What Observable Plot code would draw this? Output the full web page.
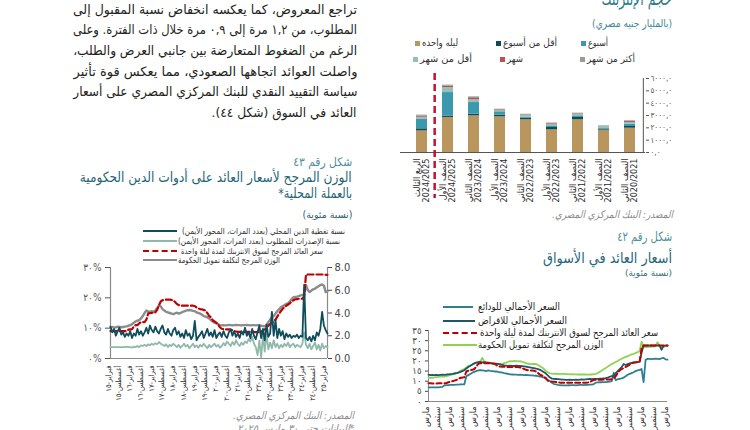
<!DOCTYPE html>
<html lang="ar"><head><meta charset="utf-8">
<script src="https://cdn.jsdelivr.net/npm/d3@7"></script>
<script src="https://cdn.jsdelivr.net/npm/@observablehq/plot@0.6"></script>
<style>
html,body{margin:0;padding:0;}
body{width:750px;height:430px;overflow:hidden;position:relative;background:#fff;font-family:"DejaVu Sans Condensed","DejaVu Sans",sans-serif;}
.t{position:absolute;white-space:nowrap;direction:rtl;}
.chart{position:absolute;}
.chart svg{overflow:visible;background:transparent;}
.sw{position:absolute;}
</style></head><body>
<script>
// ---------- text ----------
const paragraph = [
  "تراجع المعروض، كما يعكسه انخفاض نسبة المقبول إلى",
  "المطلوب، من ١,٢ مرة إلى ٠,٩ مرة خلال ذات الفترة. وعلى",
  "الرغم من الضغوط المتعارضة بين جانبي العرض والطلب،",
  "واصلت العوائد اتجاهها الصعودي، مما يعكس قوة تأثير",
  "سياسة التقييد النقدي للبنك المركزي المصري على أسعار",
  "العائد في السوق (شكل ٤٤)."
];

// ---------- bar chart: interbank volume ----------
const barCats = [
  "الربع الثالث\n2024/2025", "النصف الأول\n2024/2025", "النصف الثاني\n2023/2024",
  "النصف الأول\n2023/2024", "النصف الثاني\n2022/2023", "النصف الأول\n2022/2023",
  "النصف الثاني\n2021/2022", "النصف الأول\n2021/2022", "النصف الثاني\n2020/2021"
];
const barSeries = ["ليله واحده", "أقل من أسبوع", "أسبوع", "أقل من شهر", "شهر", "أكثر من شهر"];
const barColors = ["#b8965e", "#0f4a55", "#3b98ad", "#92c1ba", "#c0504d", "#9a9a9a"];
const overnight   = [1750, 2840, 2970, 2890, 2650, 1840, 2650, 1810, 1970];
const lessWeek    = [170, 100, 130, 140, 130, 190, 190, 80, 140];
const oneWeek     = [760, 1920, 950, 270, 80, 130, 130, 60, 190];
const lessMonth   = [180, 410, 220, 130, 190, 140, 140, 160, 130];
const oneMonth    = [90, 110, 110, 50, 30, 80, 40, 0, 80];
const moreMonth   = [80, 80, 130, 30, 20, 0, 40, 50, 60];
const barValues = [overnight, lessWeek, oneWeek, lessMonth, oneMonth, moreMonth];
const barTicks = [0, 1000, 2000, 3000, 4000, 5000, 6000];

// ---------- left chart (Feb 2015 .. Mar 2025, monthly) ----------
const leftTicks = [0, 6, 12, 18, 24, 30, 36, 42, 48, 54, 60, 66, 72, 78, 84, 90, 96, 102, 108, 114, 120];
const leftTickLabels = ["فبراير-١٥","أغسطس-١٥","فبراير-١٦","أغسطس-١٦","فبراير-١٧","أغسطس-١٧","فبراير-١٨","أغسطس-١٨","فبراير-١٩","أغسطس-١٩","فبراير-٢٠","أغسطس-٢٠","فبراير-٢١","أغسطس-٢١","فبراير-٢٢","أغسطس-٢٢","فبراير-٢٣","أغسطس-٢٣","فبراير-٢٤","أغسطس-٢٤","فبراير-٢٥"];
const leftSeriesNames = [
  "نسبة تغطية الدين المحلي (بعدد المرات، المحور الأيمن)",
  "نسبة الإصدرات للمطلوب (بعدد المرات، المحور الأيمن)",
  "سعر العائد المرجح لسوق الانتربنك لمدة ليلة واحدة",
  "الوزن المرجح لتكلفة تمويل الحكومة"
];
const leftRed = [
  9.0,9.0,9.0,9.0,9.0,9.0,9.0,9.0,9.0,9.1,9.5,9.6,
  9.7,10.5,11.0,11.0,11.6,12.0,12.0,12.0,12.8,14.8,15.0,15.0,
  15.2,15.2,16.0,17.5,18.8,19.2,19.4,19.4,19.4,19.4,19.3,19.2,
  18.6,18.0,17.6,17.5,17.4,17.4,17.4,17.4,17.4,17.4,17.4,17.3,
  16.8,16.5,16.3,16.2,16.0,15.8,15.0,14.0,13.6,12.6,12.2,11.8,
  11.2,10.3,9.8,9.7,9.6,9.6,9.6,9.4,9.3,9.0,8.9,8.8,
  8.8,8.8,8.8,8.8,8.8,8.8,8.8,8.8,8.7,8.7,8.7,8.7,
  8.8,9.3,9.6,9.8,10.8,11.4,11.8,12.3,12.8,13.8,14.8,15.6,
  16.4,17.0,17.4,17.8,18.2,18.8,19.2,19.5,19.6,19.7,19.7,19.7,
  20.5,27.6,27.7,27.7,27.7,27.7,27.7,27.7,27.7,27.7,27.7,27.7,
  27.6,27.6
];
const leftGray = [
  10.3,10.4,10.2,10.3,10.5,10.4,10.3,10.4,10.5,10.6,10.8,11.0,
  11.3,11.8,12.2,12.5,12.6,13.2,14.0,15.0,15.8,15.5,15.3,15.6,
  15.4,15.8,16.6,17.5,17.2,16.3,15.8,15.4,15.2,15.0,14.8,14.6,
  14.9,15.1,14.8,15.0,15.3,15.5,15.8,15.9,16.0,15.9,15.7,15.6,
  15.2,15.0,14.8,14.4,14.0,13.8,13.6,13.2,12.6,12.2,11.8,11.6,
  11.4,11.0,10.9,11.0,10.9,11.0,11.1,11.0,10.9,11.0,11.1,11.0,
  11.0,10.9,11.0,11.0,11.1,11.0,10.9,11.0,11.0,10.9,11.0,11.0,
  10.8,10.7,10.6,11.0,12.0,12.8,13.5,14.0,14.8,15.6,16.2,16.9,
  17.3,17.6,18.0,18.2,18.8,19.6,20.2,20.3,20.4,20.6,20.8,21.0,
  21.2,24.2,22.6,21.9,22.4,22.8,23.0,23.5,23.8,24.2,24.4,24.0,
  21.9,22.1
];
const leftCoverage = [
  2.8,2.3,2.6,2.0,2.4,2.7,2.1,2.3,1.9,2.2,2.0,2.4,
  1.8,2.2,2.0,2.6,2.1,2.4,2.0,2.3,2.7,2.2,2.9,2.5,
  2.3,2.8,2.4,2.2,2.6,2.9,2.3,2.1,2.6,2.2,2.0,2.5,
  2.7,2.1,2.4,1.9,2.2,1.8,2.5,2.0,2.2,1.7,2.0,3.3,
  1.6,1.9,2.1,2.4,1.8,2.2,2.6,2.0,2.3,1.9,2.5,1.8,
  2.1,2.3,1.9,2.4,2.0,1.8,2.3,2.6,2.0,2.4,1.9,2.2,
  1.8,2.4,2.1,2.7,2.0,2.3,1.8,2.6,2.0,1.7,2.3,2.9,
  1.8,2.6,1.6,3.0,1.9,2.2,4.1,2.0,3.4,1.8,2.6,2.0,
  2.4,1.7,2.2,1.9,2.1,1.8,2.0,1.9,2.1,1.8,2.0,1.9,
  6.5,1.8,1.6,1.9,1.5,2.0,1.6,2.3,2.0,2.6,4.1,2.9,
  2.5,2.2
];
const leftIssuance = [
  1.0,1.0,1.0,1.0,1.0,1.0,1.0,1.0,1.0,1.05,1.0,1.0,
  0.95,1.05,1.0,1.1,1.0,1.15,1.1,1.2,1.1,1.25,1.15,1.3,
  1.2,1.35,1.25,1.45,1.3,1.2,1.1,1.25,1.0,1.2,1.1,1.3,
  1.15,1.0,1.2,0.95,1.1,1.3,1.05,1.2,0.9,1.1,1.3,1.0,
  1.15,0.95,1.2,1.05,1.3,1.1,0.9,1.2,1.0,1.15,1.3,1.05,
  1.2,0.95,1.1,1.35,1.15,1.5,1.3,1.1,1.45,1.2,1.6,1.3,
  1.1,1.4,1.2,1.5,1.35,1.7,1.5,1.9,1.3,1.0,0.3,1.6,
  0.1,2.0,0.6,2.2,0.8,1.4,0.9,1.6,1.0,1.3,0.9,1.2,
  1.0,1.3,1.1,1.4,1.0,1.2,1.3,1.0,1.2,1.1,1.0,1.3,
  2.3,1.2,0.9,1.3,0.8,1.1,1.4,0.8,1.2,0.7,1.3,0.9,
  1.1,1.0
];

// ---------- right chart (Mar 2015 .. Mar 2025, monthly) ----------
const rightTicks = [0, 6, 12, 18, 24, 30, 36, 42, 48, 54, 60, 66, 72, 78, 84, 90, 96, 102, 108, 114, 120];
const rightTickLabels = ["مارس ١٥","سبتمبر ١٥","مارس ١٦","سبتمبر ١٦","مارس ١٧","سبتمبر ١٧","مارس ١٨","سبتمبر ١٨","مارس ١٩","سبتمبر ١٩","مارس ٢٠","سبتمبر ٢٠","مارس ٢١","سبتمبر ٢١","مارس ٢٢","سبتمبر ٢٢","مارس ٢٣","سبتمبر ٢٣","مارس ٢٤","سبتمبر ٢٤","مارس ٢٥"];
const rightYTicks = [0, 5, 10, 15, 20, 25, 30, 35];
const rightSeriesNames = [
  "السعر الأجمالي للودائع",
  "السعر الأجمالي للاقراض",
  "سعر العائد المرجح لسوق الانتربنك لمدة ليلة واحدة",
  "الوزن المرجح لتكلفة تمويل الحكومة"
];
const rDeposit = [
  7.0,7.0,7.0,7.0,7.0,7.0,7.1,7.2,8.0,8.1,8.1,8.2,
  8.2,8.2,8.3,8.3,8.4,8.4,8.5,12.5,13.0,13.6,14.2,14.6,
  15.0,15.3,15.4,15.3,15.2,15.0,15.3,15.1,15.0,14.8,14.8,14.6,
  14.4,14.3,14.0,13.8,13.6,13.4,13.3,13.2,13.2,13.1,13.2,13.1,
  13.0,13.1,13.0,12.9,12.9,12.8,12.7,12.5,12.3,12.1,11.8,11.2,
  10.6,10.0,9.2,8.6,8.4,8.2,8.1,8.0,7.9,7.9,8.0,8.0,
  8.1,8.1,8.0,8.1,8.2,8.2,8.1,8.2,8.2,8.3,8.3,8.6,
  9.3,9.4,9.5,9.5,9.6,9.6,9.7,9.8,10.0,14.2,10.5,11.0,
  11.2,11.4,11.8,12.5,13.2,13.6,14.0,14.4,15.0,15.3,15.6,16.0,
  9.5,20.5,21.0,21.0,20.9,21.0,21.1,21.0,20.9,21.3,21.5,20.8,
  20.6
];
const rLending = [
  13.2,13.0,13.1,13.0,13.1,13.0,13.1,13.2,13.1,13.3,13.4,13.5,
  13.6,13.8,14.0,14.2,14.6,15.0,15.4,16.3,17.0,17.6,18.2,18.8,
  19.2,19.4,19.5,19.3,19.4,19.3,19.2,19.0,18.8,18.7,18.6,18.5,
  18.3,18.0,17.8,17.7,17.6,17.7,17.6,17.5,17.7,17.6,17.5,17.4,
  17.3,17.2,17.0,16.8,16.6,16.4,16.2,16.0,15.6,15.0,14.4,13.8,
  12.8,11.8,11.3,11.2,11.1,11.0,10.9,10.8,10.8,10.7,10.7,10.8,
  10.7,10.7,10.8,10.7,10.8,10.9,10.8,10.9,11.0,11.1,11.0,11.2,
  11.2,11.2,11.3,11.3,11.4,11.5,11.8,12.2,12.5,12.8,14.0,15.0,
  16.0,17.0,18.5,18.0,18.4,18.8,19.0,19.2,19.3,19.4,19.6,24.0,
  27.6,27.5,27.6,27.7,27.6,27.5,27.6,27.7,27.6,25.5,27.4,27.6,
  27.5
];
const rInterbank = [
  9.0,9.0,8.9,8.9,8.9,9.0,9.0,9.0,9.0,9.1,9.5,9.7,
  10.0,10.3,10.6,11.2,11.6,11.8,12.0,14.8,15.2,15.4,15.6,16.0,
  17.2,18.6,18.8,18.9,18.9,18.9,18.8,18.9,18.8,18.6,18.0,17.4,
  17.2,17.1,17.2,17.1,17.0,17.1,17.0,17.0,17.1,17.0,16.8,16.4,
  16.0,15.6,15.4,15.3,15.3,15.2,14.8,14.0,13.2,12.8,12.2,11.4,
  10.2,10.0,9.8,9.7,9.6,9.5,9.3,9.2,9.2,9.2,9.2,9.2,
  9.2,9.2,9.2,9.2,9.2,9.2,9.3,9.3,9.4,9.6,10.2,10.6,
  10.7,10.7,10.7,10.7,10.8,10.8,10.8,10.9,11.0,11.5,12.5,14.0,
  15.3,16.0,16.5,17.0,17.6,18.2,18.8,19.2,19.4,19.4,19.4,26.5,
  27.6,27.6,27.6,27.6,27.6,27.6,27.6,27.6,27.6,27.6,27.6,27.6,
  27.6
];
const rGovCost = [
  11.7,11.8,11.7,11.9,12.0,12.1,12.3,12.4,12.3,12.5,12.8,13.0,
  13.4,13.6,14.0,14.4,15.0,15.6,16.0,16.8,17.5,17.7,18.2,18.8,
  19.2,19.4,19.8,21.5,19.6,19.2,18.9,18.8,18.6,18.8,18.4,18.3,
  18.6,18.4,18.9,19.2,19.6,19.9,19.8,20.0,19.9,19.8,19.9,19.6,
  19.3,18.9,18.6,18.5,18.4,18.5,18.4,18.0,17.4,16.8,16.0,15.0,
  14.4,13.9,13.7,13.6,13.7,13.6,13.5,13.6,13.6,13.5,13.5,13.4,
  13.5,13.4,13.4,13.3,13.4,13.3,13.3,13.3,13.2,13.3,13.3,13.5,
  13.6,14.0,14.6,15.3,15.9,16.5,17.2,17.9,18.5,19.0,19.5,20.0,
  20.6,21.1,21.6,22.0,22.4,22.8,23.2,23.5,23.9,24.3,24.8,29.5,
  27.0,26.8,27.0,26.9,27.1,27.0,27.3,29.2,27.5,27.0,26.8,27.4,
  27.6
];

// ---------- helpers ----------
const AR = "٠١٢٣٤٥٦٧٨٩";
const ar = s => String(s).replace(/[0-9]/g, d => AR[d]);

function addChart(svg, left, top, width) {
  const d = document.createElement("div");
  d.className = "chart";
  Object.assign(d.style, {left: left + "px", top: top + "px", width: width + "px"});
  d.appendChild(svg);
  document.body.appendChild(d);
}
function txt(s, o) {
  const d = document.createElement("div");
  d.className = "t";
  d.textContent = s;
  const lh = o.lh || Math.ceil(o.size * 1.5);
  Object.assign(d.style, {fontSize: o.size + "px", lineHeight: lh + "px", top: (o.cy - lh / 2) + "px", color: o.color || "#222"});
  if (o.italic) d.style.fontStyle = "italic";
  if (o.font) d.style.fontFamily = o.font;
  if (o.r != null) { d.style.right = (750 - o.r) + "px"; d.style.transformOrigin = "right center"; }
  else { d.style.left = o.l + "px"; d.style.transformOrigin = "left center"; }
  document.body.appendChild(d);
  if (o.w) { const w = d.getBoundingClientRect().width; d.style.transform = `scaleX(${o.w / w})`; }
  return d;
}
function swatchLine(l, cy, w, color, dashed, thick) {
  const d = document.createElement("div");
  d.className = "sw";
  Object.assign(d.style, {left: l + "px", top: (cy - thick / 2) + "px", width: w + "px", height: "0px",
    borderTop: `${thick}px ${dashed ? "dashed" : "solid"} ${color}`});
  document.body.appendChild(d);
}
function swatchBox(l, cy, s, color) {
  const d = document.createElement("div");
  d.className = "sw";
  Object.assign(d.style, {left: l + "px", top: (cy - s / 2) + "px", width: s + "px", height: s + "px", background: color});
  document.body.appendChild(d);
}

const baseStyle = {background: "transparent", overflow: "visible", fontFamily: "'DejaVu Sans Condensed','DejaVu Sans',sans-serif", color: "#333"};

// ---------- bar chart ----------
const step = 240 / barCats.length;
const segs = [];
barCats.forEach((c, i) => barSeries.forEach((s, j) => segs.push({cat: c, series: s, value: barValues[j][i]})));
const barChart = Plot.plot({
  width: 280, height: 160, marginLeft: 10, marginRight: 30, marginTop: 13, marginBottom: 73,
  style: baseStyle,
  x: {domain: barCats, paddingInner: 0.58, paddingOuter: 0.29, axis: null},
  y: {domain: [0, 6000], axis: null},
  color: {domain: barSeries, range: barColors},
  marks: [
    Plot.barY(segs, {x: "cat", y: "value", fill: "series"}),
    Plot.ruleY([0], {stroke: "#555", strokeWidth: 1, insetLeft: -5}),
    Plot.ruleX([barCats[barCats.length - 1]], {stroke: "#555", strokeWidth: 1, dx: step / 2}),
    Plot.axisY({anchor: "right", label: null, ticks: barTicks, tickSize: 3, tickPadding: 2, fontSize: 8, color: "#555",
      tickFormat: d => ar(d.toFixed(1).replace(".", ","))}),
    Plot.ruleX([barCats[1]], {stroke: "#c8102e", strokeWidth: 2.5, strokeDasharray: "7,4", dx: -step / 2, insetTop: -5, insetBottom: -46}),
    Plot.text(barCats, {x: d => d, frameAnchor: "bottom", rotate: -90, textAnchor: "end", lineAnchor: "middle",
      dy: 6, fontSize: 9, fill: "#2a2a2a", fontFamily: "'Liberation Sans Narrow','DejaVu Sans Condensed',sans-serif"})
  ]
});
addChart(barChart, 395, 65, 280);

// ---------- left chart ----------
const K = 30 / 8;
const leftChart = Plot.plot({
  width: 290, height: 175, marginLeft: 50, marginRight: 23, marginTop: 12, marginBottom: 72,
  style: baseStyle,
  x: {domain: [0, 121], axis: null},
  y: {domain: [0, 30], axis: null},
  marks: [
    Plot.ruleX([0, 121], {stroke: "#8a8a8a", strokeWidth: 1.2}),
    Plot.ruleY([0], {stroke: "#8a8a8a", strokeWidth: 1.2}),
    Plot.axisY({anchor: "left", label: null, ticks: [0, 10, 20, 30], tickFormat: d => ar(d) + "%", tickSize: 5, tickPadding: 4, fontSize: 10, color: "#555"}),
    Plot.axisY({anchor: "right", label: null, ticks: [0, 2, 4, 6, 8].map(v => v * K), tickFormat: d => (d / K).toFixed(1), tickSize: 4, tickPadding: 3, fontSize: 11, color: "#444"}),
    Plot.line(leftIssuance, {x: (d, i) => i, y: d => d * K, stroke: "#8fb9a8", strokeWidth: 1.8}),
    Plot.line(leftGray, {x: (d, i) => i, y: d => d, stroke: "#8c8c8c", strokeWidth: 2.4}),
    Plot.line(leftRed, {x: (d, i) => i, y: d => d, stroke: "#c00000", strokeWidth: 2.2, strokeDasharray: "6,3"}),
    Plot.line(leftCoverage, {x: (d, i) => i, y: d => d * K, stroke: "#0f4c5c", strokeWidth: 1.8}),
    Plot.text(leftTicks, {x: d => d, text: (d, i) => leftTickLabels[i], frameAnchor: "bottom", rotate: -90, textAnchor: "end", dy: 7, fontSize: 7.5, fill: "#333"})
  ]
});
addChart(leftChart, 60, 255, 290);

// ---------- right chart ----------
const rightChart = Plot.plot({
  width: 300, height: 112, marginLeft: 48, marginRight: 13, marginTop: 12, marginBottom: 29,
  style: baseStyle,
  x: {domain: [0, 120], axis: null},
  y: {domain: [0, 35], axis: null},
  marks: [
    Plot.ruleX([0], {stroke: "#8a8a8a"}),
    Plot.ruleY([0], {stroke: "#8a8a8a"}),
    Plot.axisY({label: null, ticks: rightYTicks, tickFormat: d => ar(d), tickSize: 3, tickPadding: 4, fontSize: 9.5, color: "#444"}),
    Plot.line(rGovCost, {x: (d, i) => i, y: d => d, stroke: "#92d050", strokeWidth: 1.8}),
    Plot.line(rDeposit, {x: (d, i) => i, y: d => d, stroke: "#2e8090", strokeWidth: 1.8}),
    Plot.line(rLending, {x: (d, i) => i, y: d => d, stroke: "#1d5868", strokeWidth: 1.8}),
    Plot.line(rInterbank, {x: (d, i) => i, y: d => d, stroke: "#c00000", strokeWidth: 2, strokeDasharray: "5,3"}),
    Plot.text(rightTicks, {x: d => d, text: (d, i) => rightTickLabels[i], frameAnchor: "bottom", rotate: -90, textAnchor: "end", dy: 5, fontSize: 9, fill: "#333"})
  ]
});
addChart(rightChart, 380, 318, 300);

// ---------- page text ----------
const paraCy = [10, 30, 51, 72, 92, 113];
const paraW = [284, 284, 284, 284, 284, 145];
paragraph.forEach((line, i) => txt(line, {r: 357, cy: paraCy[i], size: 13, lh: 20, w: paraW[i], color: "#231f20"}));

// top-right block
txt("حجم الإنتربنك", {r: 672, cy: -2, size: 19, w: 70, color: "#2b7b8a"});
txt("(بالمليار جنيه مصري)", {r: 672, cy: 23, size: 10.5, w: 80, color: "#3c8795"});
const barLegendPos = [
  {l: 422, cy: 43, w: 36}, {l: 503, cy: 43, w: 54}, {l: 588, cy: 43, w: 20},
  {l: 420, cy: 59, w: 52}, {l: 507, cy: 59, w: 16}, {l: 587, cy: 59, w: 48}
];
barSeries.forEach((s, j) => {
  const p = barLegendPos[j];
  swatchBox(p.l - 7, p.cy, 5, barColors[j]);
  txt(s, {l: p.l, cy: p.cy, size: 10, lh: 14, w: p.w, color: "#333"});
});
txt("المصدر: البنك المركزي المصري.", {r: 673, cy: 214, size: 10.5, lh: 14, w: 121, italic: true, color: "#8c8c8c"});

// right-bottom block
txt("شكل رقم ٤٢", {r: 672, cy: 237, size: 13, lh: 16, w: 55, color: "#4f8f9c"});
txt("أسعار العائد في الأسواق", {r: 672, cy: 258, size: 15, lh: 18, w: 129, color: "#1f6677"});
txt("(نسبة مئوية)", {r: 672, cy: 273, size: 9.5, lh: 12, w: 47, color: "#3a6f7c"});
const rightLegend = [
  {cy: 307, l1: 443, l2: 473, tl: 478, w: 82, color: "#2e8090", dashed: false},
  {cy: 321, l1: 443, l2: 475, tl: 478, w: 89, color: "#1d5868", dashed: false},
  {cy: 333, l1: 443, l2: 477, tl: 480, w: 178, color: "#c00000", dashed: true},
  {cy: 345, l1: 443, l2: 477, tl: 478, w: 125, color: "#92d050", dashed: false}
];
rightSeriesNames.forEach((s, j) => {
  const p = rightLegend[j];
  swatchLine(p.l1, p.cy, p.l2 - p.l1, p.color, p.dashed, 2);
  txt(s, {l: p.tl, cy: p.cy, size: 10, lh: 12, w: p.w, color: "#222"});
});

// left block
txt("شكل رقم ٤٣", {r: 352, cy: 162, size: 12, lh: 14, w: 59, color: "#4f8f9c"});
txt("الوزن المرجح لأسعار العائد على أدوات الدين الحكومية", {r: 352, cy: 177, size: 14, lh: 16, w: 272, color: "#1f6677"});
txt("بالعملة المحلية*", {r: 352, cy: 193, size: 14, lh: 16, w: 74, color: "#1f6677"});
txt("(نسبة مئوية)", {r: 352, cy: 214, size: 10, lh: 13, w: 50, color: "#2f5f6c"});
const leftLegend = [
  {cy: 231, tl: 182, w: 163, color: "#0f4c5c", dashed: false},
  {cy: 241, tl: 178, w: 162, color: "#8fb9a8", dashed: false},
  {cy: 251, tl: 181, w: 142, color: "#c00000", dashed: true},
  {cy: 260, tl: 178, w: 102, color: "#8c8c8c", dashed: false}
];
leftSeriesNames.forEach((s, j) => {
  const p = leftLegend[j];
  swatchLine(143, p.cy, 34, p.color, p.dashed, 2.5);
  txt(s, {l: p.tl, cy: p.cy, size: 8.5, lh: 10, w: p.w, color: "#333"});
});
txt("المصدر: البنك المركزي المصري.", {r: 354, cy: 415, size: 10.5, lh: 13, w: 121, italic: true, color: "#8c8c8c"});
txt("*البيانات حتى ٣٠ مارس ٢٠٢٥.", {r: 354, cy: 428, size: 10.5, lh: 13, w: 120, italic: true, color: "#8c8c8c"});
</script>
</body></html>
